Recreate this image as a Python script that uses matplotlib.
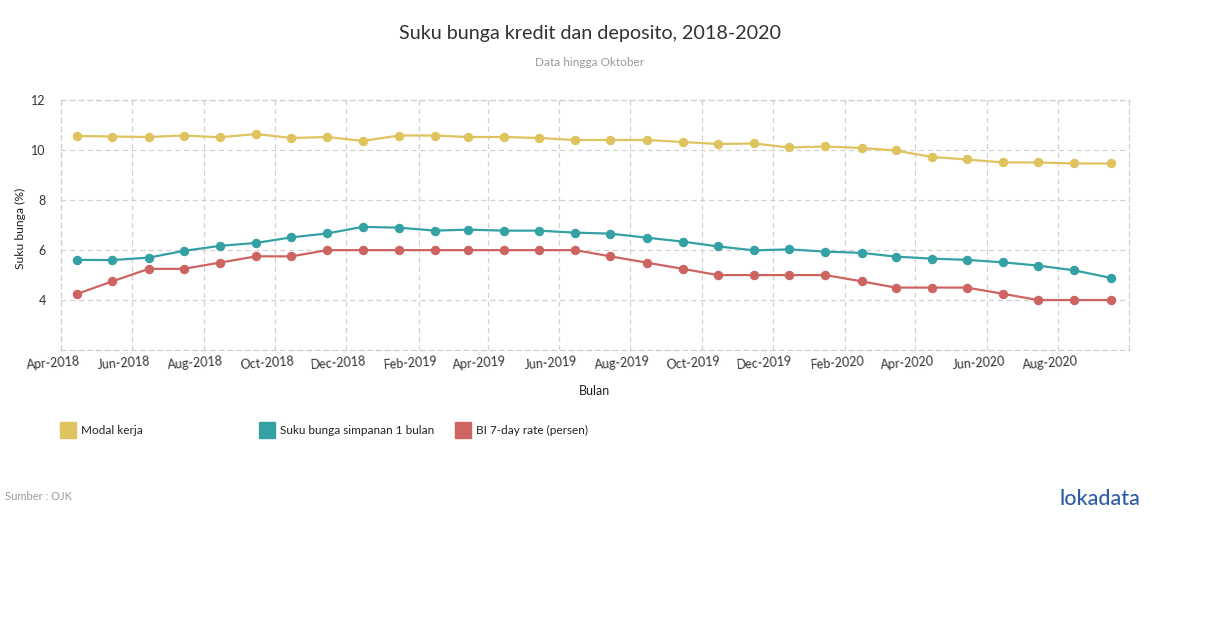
import matplotlib
matplotlib.use("Agg")
import matplotlib.pyplot as plt
import matplotlib.dates as mdates
import matplotlib.transforms as mtransforms
import pandas as pd

plt.rcParams['font.family'] = ['Lato', 'DejaVu Sans']

months = pd.date_range('2018-04-01', '2020-09-01', freq='MS') + pd.Timedelta(days=14)

modal_kerja = [10.57, 10.55, 10.53, 10.59, 10.52, 10.65, 10.49, 10.53, 10.37,
               10.59, 10.59, 10.53, 10.53, 10.49, 10.41, 10.41, 10.41, 10.33, 10.25, 10.27,
               10.11, 10.15, 10.09, 9.99, 9.73, 9.63, 9.51, 9.51, 9.47, 9.47]
simpanan = [5.61, 5.60, 5.70, 5.97, 6.17, 6.29, 6.51, 6.67, 6.93,
            6.90, 6.78, 6.82, 6.78, 6.78, 6.70, 6.66, 6.50, 6.34, 6.15, 5.99,
            6.03, 5.94, 5.89, 5.74, 5.66, 5.61, 5.51, 5.38, 5.19, 4.89]
bi_rate = [4.25, 4.75, 5.25, 5.25, 5.50, 5.75, 5.75, 6.00, 6.00,
           6.00, 6.00, 6.00, 6.00, 6.00, 6.00, 5.75, 5.50, 5.25, 5.00, 5.00,
           5.00, 5.00, 4.75, 4.50, 4.50, 4.50, 4.25, 4.00, 4.00, 4.00]

series_names = ['Modal kerja', 'Suku bunga simpanan 1 bulan', 'BI 7-day rate (persen)']
colors = ['#DFC35E', '#35A1A5', '#CE6462']
y_ticks = [2, 4, 6, 8, 10, 12]
y_labels = ['', '4', '6', '8', '10', '12']

fig = plt.figure(figsize=(12.1, 6.28), dpi=100)
ax = fig.add_axes([61/1210, 1-350/628, (1129.3-61)/1210, (350-100.3)/628])

for vals, c in zip([modal_kerja, simpanan, bi_rate], colors):
    ax.plot(months, vals, color=c, lw=1.6, marker='o', ms=5.8, zorder=3)

ax.set_xlim(pd.Timestamp('2018-04-01'), pd.Timestamp('2020-10-01'))
ax.set_ylim(2, 12)
ax.set_yticks(y_ticks)
ax.set_yticklabels(y_labels)
ax.xaxis.set_major_locator(mdates.MonthLocator(bymonth=[2, 4, 6, 8, 10, 12]))
ax.xaxis.set_major_formatter(mdates.DateFormatter('%b-%Y'))
ticks = ax.get_xticks()
ax.set_xticks([t for t in ticks if t < mdates.date2num(pd.Timestamp('2020-09-30'))])

ax.grid(True, color='#d0d0d0', linestyle=(0, (4, 3)), lw=0.9)
for s in ax.spines.values():
    s.set_color('#d0d0d0')
    s.set_linestyle((0, (4, 3)))
    s.set_linewidth(0.9)
ax.tick_params(length=0, labelsize=9, colors='#333333')
ax.tick_params(axis='y', pad=11)
ax.tick_params(axis='x', pad=4)
offset = mtransforms.ScaledTranslation(-8/100, 0, fig.dpi_scale_trans)
for lab in ax.get_xticklabels():
    lab.set_rotation(4)
    lab.set_ha('center')
    lab.set_transform(lab.get_transform() + offset)

fig.text(20/1210, 1-228/628, 'Suku bunga (%)', rotation=90, ha='center', va='center',
         fontsize=8.7, color='#222222')
fig.text(595/1210, 1-391/628, 'Bulan', ha='center', va='center', fontsize=9, color='#222222')

fig.text(590/1210, 1-33/628, 'Suku bunga kredit dan deposito, 2018-2020', ha='center', va='center',
         fontsize=14.2, color='#333333')
fig.text(590/1210, 1-62/628, 'Data hingga Oktober', ha='center', va='center',
         fontsize=8.5, color='#999999')

leg_x = [60, 259, 455]
for lx, name, c in zip(leg_x, series_names, colors):
    fig.patches.append(plt.Rectangle((lx/1210, 1-438/628), 16/1210, 16/628,
                                     transform=fig.transFigure, color=c, figure=fig))
    fig.text((lx+21)/1210, 1-430/628, name, ha='left', va='center', fontsize=8.5, color='#222222')

fig.text(5/1210, 1-497/628, 'Sumber : OJK', ha='left', va='center', fontsize=8, color='#999999')
fig.text(1140/1210, 1-499/628, 'lokadata', ha='right', va='center', fontsize=15.5,
         color='#2D5DA8', fontweight='medium')

fig.savefig('out.png', dpi=100)
